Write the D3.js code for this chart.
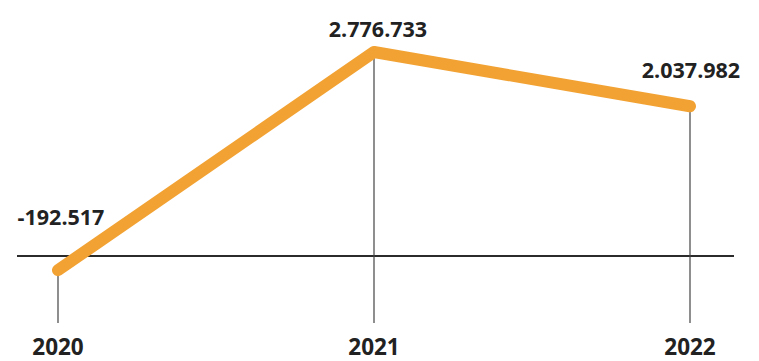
<!DOCTYPE html>
<html>
<head>
<meta charset="utf-8">
<script src="https://cdn.jsdelivr.net/npm/d3@7"></script>
<style>
  body { margin: 0; background: #fff; }
  svg { display: block; }
  text { font-family: "Open Sans", "Noto Sans", sans-serif; font-weight: 700; fill: #222; }
</style>
</head>
<body>
<svg class="chart" width="759" height="361"></svg>
<script>
const years = ["2020", "2021", "2022"];
const values = [-192517, 2776733, 2037982];
const valueLabels = ["-192.517", "2.776.733", "2.037.982"];

const svg = d3.select('.chart');

// layout
const x = d3.scalePoint().domain(years).range([58, 690]);
const y = d3.scaleLinear().domain([0, d3.max(values)]).range([256, 52]);
const dropBottom = 323;
// label placement per point: [dx, dy from point]
const labelShift = [[3, -45], [4, -15], [1, -28]];

// zero line
svg.append('line')
  .attr('x1', 17)
  .attr('x2', 734)
  .attr('y1', y(0))
  .attr('y2', y(0))
  .attr('stroke', '#2b2b2b')
  .attr('stroke-width', 2);

// drop lines from each point down to year labels
years.forEach(function(yr, idx) {
  svg.append('line')
    .attr('x1', x(yr))
    .attr('x2', x(yr))
    .attr('y1', y(values[idx]))
    .attr('y2', dropBottom)
    .attr('stroke', '#444')
    .attr('stroke-width', 1.2);
});

// the line
const line = d3.line()
  .x((d, i) => x(years[i]))
  .y(d => y(d));

svg.append('path')
  .datum(values)
  .attr('d', line)
  .attr('fill', 'none')
  .attr('stroke', '#F2A233')
  .attr('stroke-width', 12)
  .attr('stroke-linecap', 'round')
  .attr('stroke-linejoin', 'round');

// value labels
values.forEach(function(v, idx) {
  svg.append('text')
    .attr('x', x(years[idx]) + labelShift[idx][0])
    .attr('y', y(v) + labelShift[idx][1])
    .attr('text-anchor', 'middle')
    .style('font-size', '21.5px')
    .text(valueLabels[idx]);
});

// year labels
years.forEach(function(yr) {
  svg.append('text')
    .attr('x', x(yr))
    .attr('y', 355)
    .attr('text-anchor', 'middle')
    .style('font-size', '22.5px')
    .text(yr);
});
</script>
</body>
</html>
